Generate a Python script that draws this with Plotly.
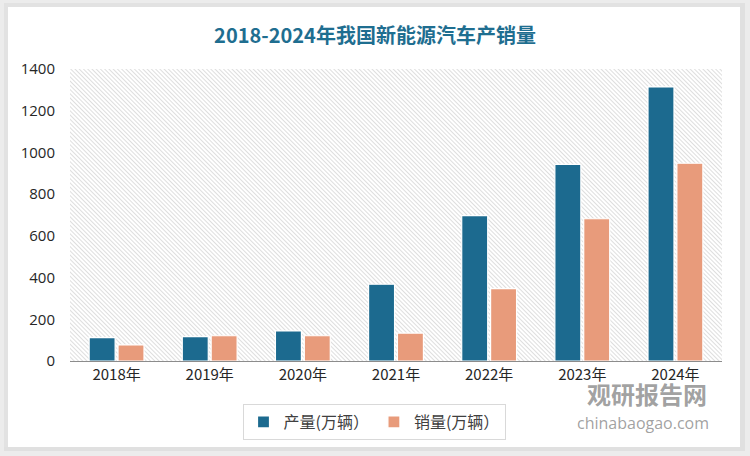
import plotly.graph_objects as go

years = ["2018年", "2019年", "2020年", "2021年", "2022年", "2023年", "2024年"]
production = [112, 117, 144, 368, 697, 943, 1314]
sales = [77, 121, 121, 134, 347, 682, 948]
series_names = ["产量(万辆）", "销量(万辆）"]
y_ticks = [0, 200, 400, 600, 800, 1000, 1200, 1400]
title_text = "2018-2024年我国新能源汽车产销量"

PROD_COLOR = "#1c6a8f"
SALES_COLOR = "#e89b7b"

W, H = 750, 456
L, R, T, B = 70, 28, 69, 95
pw, ph = W - L - R, H - T - B


def px_x(x):
    return (x - L) / pw


def px_y(y):
    return (T + ph - y) / ph


# diagonal hatch pattern background for plot area (SVG data URI)
svg = (
    f"<svg xmlns='http://www.w3.org/2000/svg' width='{pw}' height='{ph}' viewBox='0 0 {pw} {ph}' preserveAspectRatio='none'>"
    "<defs><pattern id='p' width='3' height='3' patternUnits='userSpaceOnUse' patternTransform='rotate(-45)'>"
    "<rect width='3' height='3' fill='%23ffffff'/>"
    "<rect width='1' height='3' fill='%23dedede'/></pattern></defs>"
    f"<rect width='{pw}' height='{ph}' fill='url(%23p)'/></svg>"
)
svg_uri = "data:image/svg+xml;utf8," + svg.replace("<", "%3C").replace(">", "%3E").replace("'", "%27").replace(" ", "%20")

fig = go.Figure()
fig.add_trace(go.Bar(
    x=years, y=production, name=series_names[0],
    marker=dict(color=PROD_COLOR, line=dict(color="white", width=1.2)),
))
fig.add_trace(go.Bar(
    x=years, y=sales, name=series_names[1],
    marker=dict(color=SALES_COLOR, line=dict(color="white", width=1.2)),
))


def strip(x0, x1, y0, y1, color):
    return dict(type="rect", xref="paper", yref="paper",
                x0=px_x(x0), x1=px_x(x1), y0=px_y(y1), y1=px_y(y0),
                line=dict(width=0), fillcolor=color, layer="above")


shapes = [
    # outer shadow frame
    strip(0, 8, 0, H, "#ececec"),
    strip(0, W, 0, 7, "#ececec"),
    strip(740, W, 0, H, "#ececec"),
    strip(0, W, 447, H, "#ececec"),
    strip(4, 8, 3, 450, "#e2e2e2"),
    strip(4, 744, 3, 7, "#e2e2e2"),
    strip(740, 745, 3, 451, "#e0e0e0"),
    strip(4, 745, 447, 451, "#e0e0e0"),
]

fig.update_layout(
    width=W, height=H,
    margin=dict(l=L, r=R, t=T, b=B, autoexpand=False),
    paper_bgcolor="white",
    plot_bgcolor="rgba(0,0,0,0)",
    barmode="group",
    bargap=0.38,
    bargroupgap=0.1,
    title=dict(
        text=title_text, x=0.5, xref="container", xanchor="center", y=1 - 36 / H, yanchor="middle",
        font=dict(family="Noto Sans CJK SC", size=20, color="#1f6e90", weight="bold"),
    ),
    font=dict(family="Noto Sans CJK SC", color="#404040"),
    xaxis=dict(
        showgrid=False, showline=True, linecolor="#8c8c8c", linewidth=1.2,
        ticks="", tickfont=dict(family="Noto Sans CJK SC", size=15, color="#262626"),
        fixedrange=True,
    ),
    yaxis=dict(
        range=[0, 1400], tickvals=y_ticks, showgrid=False, zeroline=False,
        showline=False, ticks="", tickfont=dict(family="Open Sans", size=15, color="#262626"),
        ticklabelstandoff=14, fixedrange=True,
    ),
    legend=dict(
        orientation="h", x=px_x(374), xanchor="center", y=px_y(404), yanchor="top",
        bordercolor="#d9d9d9", borderwidth=1, bgcolor="white",
        font=dict(family="Noto Sans CJK SC", size=16, color="#404040"),
        traceorder="normal", itemwidth=30,
    ),
    images=[dict(
        source=svg_uri, xref="paper", yref="paper", x=0, y=1, sizex=1, sizey=1,
        sizing="stretch", layer="below", xanchor="left", yanchor="top",
    )],
    shapes=shapes,
    annotations=[
        dict(text="<b>观研报告网</b>", xref="paper", yref="paper",
             x=px_x(647), y=px_y(394), xanchor="center", yanchor="middle",
             showarrow=False, font=dict(family="Noto Sans CJK SC", size=24, color="rgba(120,120,120,0.7)")),
        dict(text="chinabaogao.com", xref="paper", yref="paper",
             x=px_x(643), y=px_y(423), xanchor="center", yanchor="middle",
             showarrow=False, font=dict(family="Open Sans", size=16, color="rgba(120,120,120,0.7)")),
    ],
    showlegend=True,
)

fig.write_html(
    "out.html",
    config={"displayModeBar": False},
    post_script="document.body.style.margin='0';document.body.style.padding='0';",
)
